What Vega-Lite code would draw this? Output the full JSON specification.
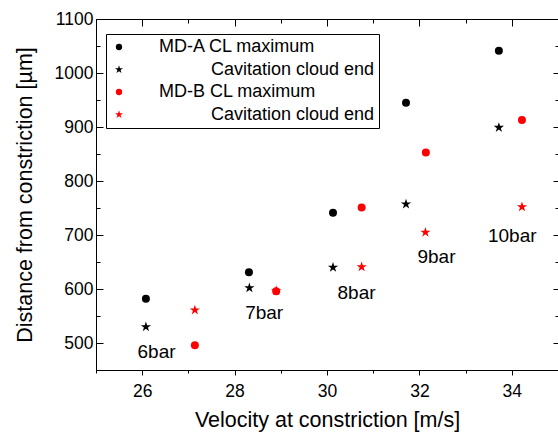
{
  "$schema": "https://vega.github.io/schema/vega-lite/v6.json",
  "width": 462,
  "height": 351,
  "autosize": {"type": "none"},
  "padding": {"left": 96, "top": 19, "right": 0, "bottom": 65},
  "background": "white",
  "config": {
    "view": {"stroke": "black", "strokeWidth": 1},
    "font": "Liberation Sans",
    "axis": {"domain": false, "grid": false, "tickColor": "black", "labelColor": "black", "titleColor": "black", "labelFont": "Liberation Sans", "titleFont": "Liberation Sans", "titleFontWeight": "normal", "labelFontSize": 17.5, "titleFontSize": 21.5, "tickWidth": 1}
  },
  "datasets": {
    "pts": [
      {"s": "A2", "v": 26.08, "d": 530},
      {"s": "A2", "v": 28.32, "d": 602},
      {"s": "A2", "v": 30.13, "d": 640},
      {"s": "A2", "v": 31.71, "d": 757},
      {"s": "A2", "v": 33.72, "d": 899},
      {"s": "B2", "v": 27.14, "d": 561},
      {"s": "B2", "v": 28.9, "d": 597},
      {"s": "B2", "v": 30.75, "d": 641},
      {"s": "B2", "v": 32.13, "d": 705},
      {"s": "B2", "v": 34.22, "d": 752},
      {"s": "A1", "v": 26.08, "d": 582},
      {"s": "A1", "v": 28.31, "d": 631},
      {"s": "A1", "v": 30.13, "d": 741},
      {"s": "A1", "v": 31.71, "d": 945},
      {"s": "A1", "v": 33.72, "d": 1041},
      {"s": "B1", "v": 27.14, "d": 496},
      {"s": "B1", "v": 28.9, "d": 596},
      {"s": "B1", "v": 30.75, "d": 751},
      {"s": "B1", "v": 32.14, "d": 853},
      {"s": "B1", "v": 34.22, "d": 913}
    ],
    "lbl": [
      {"t": "6bar", "v": 26.31, "d": 484},
      {"t": "7bar", "v": 28.64, "d": 555},
      {"t": "8bar", "v": 30.64, "d": 592},
      {"t": "9bar", "v": 32.37, "d": 660},
      {"t": "10bar", "v": 34.01, "d": 698}
    ]
  },
  "layer": [
    {
      "data": {"name": "pts"},
      "mark": {"type": "point", "filled": true, "opacity": 1, "size": 64, "strokeWidth": 0},
      "encoding": {
        "x": {"field": "v", "type": "quantitative", "scale": {"domain": [25, 35], "nice": false, "zero": false},
          "axis": {"orient": "bottom", "values": [25, 26, 27, 28, 29, 30, 31, 32, 33, 34, 35], "labelExpr": "datum.value % 2 === 0 ? datum.label : ''", "tickSize": {"condition": {"test": "datum.value % 2 === 0", "value": 5}, "value": 3}, "labelPadding": 7, "title": "Velocity at constriction [m/s]", "titlePadding": 10}},
        "y": {"field": "d", "type": "quantitative", "scale": {"domain": [450, 1100], "nice": false, "zero": false},
          "axis": {"orient": "left", "values": [450, 500, 550, 600, 650, 700, 750, 800, 850, 900, 950, 1000, 1050, 1100], "format": "d", "labelExpr": "datum.value % 100 === 0 ? datum.label : ''", "tickSize": {"condition": {"test": "datum.value % 100 === 0", "value": -7}, "value": -4}, "labelPadding": 10, "title": "Distance from constriction [µm]", "titlePadding": 18}},
        "color": {"field": "s", "type": "nominal", "scale": {"domain": ["A1", "A2", "B1", "B2"], "range": ["black", "black", "red", "red"]},
          "legend": {"title": null, "orient": "none", "legendX": 10, "legendY": 15, "strokeColor": "black", "fillColor": "white", "padding": 4, "rowPadding": 4.5, "symbolSize": 40, "symbolStrokeWidth": 0, "labelFontSize": 18, "labelColor": "black", "labelFont": "Liberation Sans", "labelLimit": 300,
            "labelOffset": {"expr": "datum.value === 'A2' || datum.value === 'B2' ? 83 : 31"},
            "labelExpr": "datum.value === 'A1' ? 'MD-A CL maximum' : datum.value === 'B1' ? 'MD-B CL maximum' : 'Cavitation cloud end'"}},
        "shape": {"field": "s", "type": "nominal", "scale": {"domain": ["A1", "A2", "B1", "B2"], "range": ["circle", "M0,-1.35L0.303,-0.417L1.284,-0.417L0.491,0.159L0.794,1.092L0,0.516L-0.794,1.092L-0.491,0.159L-1.284,-0.417L-0.303,-0.417Z", "circle", "M0,-1.35L0.303,-0.417L1.284,-0.417L0.491,0.159L0.794,1.092L0,0.516L-0.794,1.092L-0.491,0.159L-1.284,-0.417L-0.303,-0.417Z"]}}
      }
    },
    {
      "data": {"name": "lbl"},
      "mark": {"type": "text", "fontSize": 19, "font": "Liberation Sans", "color": "black", "align": "center", "baseline": "middle"},
      "encoding": {
        "x": {"field": "v", "type": "quantitative",
          "axis": {"orient": "top", "values": [25, 26, 27, 28, 29, 30, 31, 32, 33, 34, 35], "labels": false, "title": null, "tickSize": {"condition": {"test": "datum.value % 2 === 0", "value": -7}, "value": -4}}},
        "y": {"field": "d", "type": "quantitative",
          "axis": {"orient": "right", "values": [450, 500, 550, 600, 650, 700, 750, 800, 850, 900, 950, 1000, 1050, 1100], "labels": false, "title": null, "tickSize": {"condition": {"test": "datum.value % 100 === 0", "value": -5}, "value": -3}}},
        "text": {"field": "t"}
      }
    }
  ],
  "resolve": {"axis": {"x": "independent", "y": "independent"}}
}
